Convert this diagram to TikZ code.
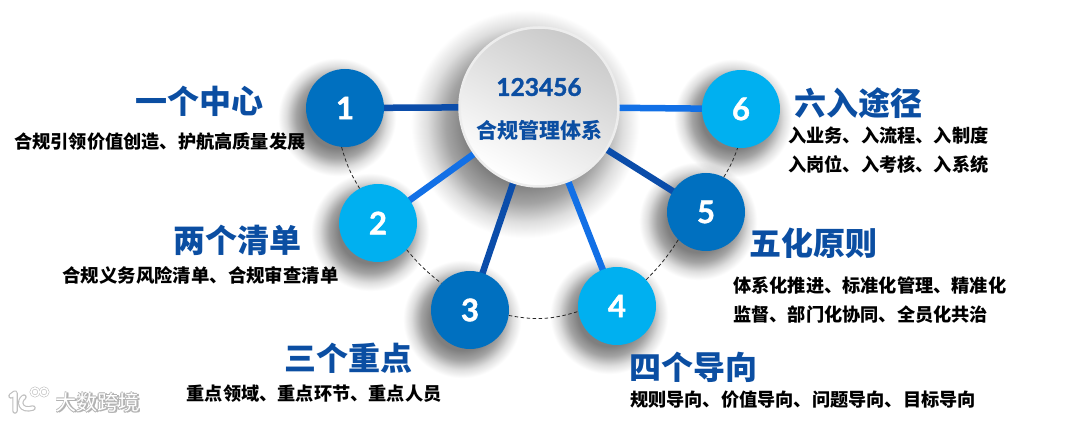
\documentclass[tikz,border=0pt]{standalone}
\usepackage{fontspec}
\setmainfont{Noto Sans CJK SC}
\newfontfamily\digitfont{Lato}[BoldFeatures={FakeBold=1.5}]
\usetikzlibrary{fadings}
\definecolor{deepblue}{HTML}{0070C0}
\definecolor{skyblue}{HTML}{00B0F0}
\definecolor{titleblue}{HTML}{0B4EA2}
\definecolor{darkline}{HTML}{0B4DAA}
\definecolor{brightline}{HTML}{1270E6}
\pgfdeclarelayer{shadelayer}
\pgfdeclarelayer{linelayer}
\pgfsetlayers{shadelayer,linelayer,main}
\pgfdeclareradialshading{softshade}{\pgfpointorigin}{color(0bp)=(pgftransparent!45); color(13bp)=(pgftransparent!50); color(17bp)=(pgftransparent!64); color(21bp)=(pgftransparent!87); color(24.5bp)=(pgftransparent!100); color(50bp)=(pgftransparent!100)}
\pgfdeclarefading{softdisc}{\pgfuseshading{softshade}}
\tikzset{
  numnode/.style = {
    circle,inner sep=0pt,minimum size=78pt,text=white,
    font=\digitfont\bfseries\fontsize{31}{31}\selectfont
  },
  titletext/.style = {text=titleblue,font=\bfseries\fontsize{32}{34}\selectfont,inner sep=0pt},
  subtext/.style   = {text=black,font=\bfseries\fontsize{18.2}{29}\selectfont,inner sep=0pt,align=left},
  spoke/.style     = {line width=6.5pt},
  dashline/.style  = {black!85,dashed,line width=0.8pt,dash pattern=on 3.5pt off 2.5pt}
}

\begin{document}
\begin{tikzpicture}[x=1pt,y=-1pt]
\useasboundingbox (0,0) rectangle (1080,422);

% shadows
\begin{pgfonlayer}{shadelayer}
\fill[black,path fading=softdisc] (525,124) circle (116);
\foreach \x/\y in {345/108,378/223,470/310,617/306,706/212,741/109}{
  \fill[black,path fading=softdisc] (\x-8,\y+9) circle (60);
}
\end{pgfonlayer}

% hub
\node[circle,inner sep=0pt,minimum size=159pt,draw=white!93!black,line width=2.5pt,
  shading=axis,top color=black!21,bottom color=white,shading angle=-28] (hub) at (539,107) {};
\node[text=titleblue,font=\digitfont\bfseries\fontsize{24.5}{25}\selectfont,inner sep=0pt] (hubnum) at (539,87) {123456};
\node[text=titleblue,font=\bfseries\fontsize{21}{22}\selectfont,inner sep=0pt] (hubname) at (539,130) {合规管理体系};

% numbered circles
\foreach \n/\x/\y/\c in {1/345/108/deepblue,2/378/223/skyblue,3/470/310/deepblue,
                         4/617/306/skyblue,5/706/212/deepblue,6/741/109/skyblue}{
  \node[numnode,fill=\c] (n\n) at (\x,\y) {\n};
}

% spokes
\begin{pgfonlayer}{linelayer}
\foreach \n/\c in {1/darkline,2/brightline,3/darkline,4/brightline,5/darkline,6/brightline}{
  \draw[spoke,\c] (hub.center) -- (n\n.center);
}
\end{pgfonlayer}

% dashed arc
\draw[dashline] (n1.-95) to[bend right=8] (n2.118);
\draw[dashline] (n2.-43) to[bend right=6] (n3.137);
\draw[dashline] (n3.-8) to[bend right=14] (n4.188);
\draw[dashline] (n4.42) to[bend right=6] (n5.-135);
\draw[dashline] (n5.63) to[bend right=6] (n6.-95);

% labels
\node[titletext] (title1) at (199.5,101) {一个中心};
\node[subtext] (sub1) at (160,142) {合规引领价值创造、护航高质量发展};
\node[titletext] (title2) at (237,240) {两个清单};
\node[subtext,font=\bfseries\fontsize{18.4}{29}\selectfont] (sub2) at (200.5,275) {合规义务风险清单、合规审查清单};
\node[titletext] (title3) at (348,358) {三个重点};
\node[subtext] (sub3) at (314,394) {重点领域、重点环节、重点人员};
\node[titletext] (title4) at (693.5,367) {四个导向};
\node[subtext] (sub4) at (803,400) {规则导向、价值导向、问题导向、目标导向};
\node[titletext] (title5) at (813.5,243) {五化原则};
\node[subtext,anchor=west] (sub5) at (733,300) {体系化推进、标准化管理、精准化\\监督、部门化协同、全员化共治};
\node[titletext] (title6) at (858,103) {六入途径};
\node[subtext,anchor=west] (sub6) at (788,150) {入业务、入流程、入制度\\入岗位、入考核、入系统};

% watermark
\foreach \dx/\dy in {-1/0,1/0,0/-1,0/1,1/1,-1/1}{
  \node[text=black!30,font=\fontsize{21}{22}\selectfont,inner sep=0pt] at (98+\dx,402+\dy) {大数跨境};
}
\node[text=white,font=\fontsize{21}{22}\selectfont,inner sep=0pt] (mark) at (98,402) {大数跨境};
\foreach \c/\w in {black!25/5.5,white/3.2}{
  \draw[\c,line width=\w pt,line cap=round,line join=round] (11,396) -- (15,393) -- (15,411);
  \draw[\c,line width=\w pt,line cap=round] (24,397) .. controls (18,401) and (20,412) .. (33,408);
  \draw[\c,line width=0.5*\w pt] (35,392) circle (4);
  \draw[\c,line width=0.5*\w pt] (44,392) circle (4);
}
\end{tikzpicture}
\end{document}
